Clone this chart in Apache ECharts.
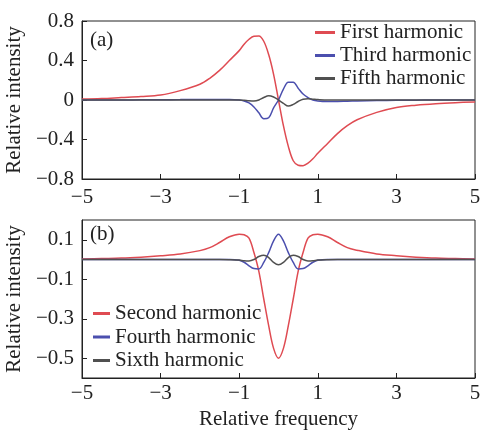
<!DOCTYPE html>
<html>
<head>
<meta charset="utf-8">
<script src="https://cdn.jsdelivr.net/npm/echarts@6.0.0/dist/echarts.min.js"></script>
<style>html,body{margin:0;padding:0;background:#fff}#main{width:481px;height:430px}</style>
</head>
<body>
<div id="main"></div>
<script>
// relative frequency sample points
var freq=[-5,-4.5,-4,-3.5,-3,-2.5,-2,-1.75,-1.5,-1.25,-1,-0.875,-0.75,-0.625,-0.5,-0.375,-0.25,-0.125,0,
	0.125,0.25,0.375,0.5,0.625,0.75,0.875,1,1.25,1.5,1.75,2,2.5,3,3.5,4,4.5,5]
// (a) odd harmonics
var first=[0.01,0.015,0.025,0.035,0.05,0.095,0.16,0.22,0.30,0.40,0.50,0.565,0.615,0.645,0.648,0.595,0.46,0.26,0,
	-0.26,-0.47,-0.615,-0.66,-0.665,-0.64,-0.595,-0.54,-0.44,-0.34,-0.26,-0.2,-0.125,-0.075,-0.052,-0.037,-0.027,-0.02]
var third=[0,0,0,0.002,0.003,0.004,0.005,0.005,0.005,0.005,0,-0.01,-0.03,-0.07,-0.13,-0.19,-0.18,-0.08,0,
	0.11,0.18,0.18,0.12,0.06,0.025,0,-0.01,-0.015,-0.015,-0.012,-0.01,-0.006,-0.003,-0.002,0,0,0]
var fifth=[0,0,0,0,0,0,0,0,0,0,0,-0.003,-0.008,-0.01,0,0.025,0.042,0.03,0,
	-0.035,-0.062,-0.045,-0.015,0.008,0.012,0.008,0.004,0,0,0,0,0,0,0,0,0,0]
// (b) even harmonics
var second=[0.003,0.005,0.007,0.012,0.019,0.028,0.045,0.06,0.086,0.115,0.128,0.125,0.108,0.035,-0.06,-0.2,-0.335,-0.45,-0.5,
	-0.45,-0.335,-0.2,-0.06,0.035,0.108,0.125,0.128,0.115,0.086,0.06,0.047,0.028,0.019,0.012,0.007,0.005,0.003]
var fourth=[0,0,0,0,0,0,0,0,0,0,-0.004,-0.014,-0.032,-0.046,-0.048,-0.015,0.035,0.094,0.128,
	0.094,0.035,-0.015,-0.048,-0.046,-0.032,-0.014,-0.004,0,0,0,0,0,0,0,0,0,0]
var sixth=[0,0,0,0,0,0,0,0,0,-0.001,-0.003,-0.006,-0.007,0,0.015,0.022,0.01,-0.015,-0.027,
	-0.015,0.01,0.022,0.015,0,-0.007,-0.006,-0.003,-0.001,0,0,0,0,0,0,0,0,0]
var ticksB=[-0.5,-0.3,-0.1,0.1]

function pairs(y){
	var out=[]
	for(var i=0;i<freq.length;i++){out.push([freq[i],y[i]])}
	return out
}
function minus(v){return (v<0?'\u2212':'')+Math.abs(v)}

var font="'Liberation Serif','Times New Roman',serif"
var ink='#222'
var red='#df4b52',blue='#4b4fae',gray='#505050'

function xAxis(idx,margin,name){
	return {
		type:'value',gridIndex:idx,min:-5,max:5,interval:2,
		name:name||'',nameLocation:'middle',nameGap:31,
		nameTextStyle:{fontFamily:font,fontSize:21,color:ink},
		axisLine:{onZero:false,lineStyle:{color:ink,width:1}},
		axisTick:{inside:true,length:5,lineStyle:{color:ink}},
		axisLabel:{margin:margin,fontFamily:font,fontSize:21,color:ink,formatter:minus},
		splitLine:{show:false}
	}
}
function yAxis(idx,extra){
	var a={
		type:'value',gridIndex:idx,
		name:'Relative intensity',nameLocation:'middle',nameGap:53,
		nameTextStyle:{fontFamily:font,fontSize:21,color:ink},
		axisLine:{show:true,onZero:false,lineStyle:{color:ink,width:1}},
		axisTick:{show:true,inside:true,length:5,lineStyle:{color:ink}},
		axisLabel:{margin:8,fontFamily:font,fontSize:21,color:ink,formatter:minus},
		splitLine:{show:false}
	}
	for(var k in extra){a[k]=extra[k]}
	return a
}
function line(name,data,color,idx){
	return {
		name:name,type:'line',xAxisIndex:idx,yAxisIndex:idx,
		data:pairs(data),symbol:'none',smooth:0.35,
		lineStyle:{color:color,width:1.5},itemStyle:{color:color}
	}
}

var mychart=echarts.init(document.getElementById('main'))
var option={
	animation:false,
	backgroundColor:'#fff',
	grid:[
		{left:82,right:6,top:21,height:158,show:true,borderColor:ink,borderWidth:1,outerBoundsMode:'none'},
		{left:82,right:6,top:220,height:158,show:true,borderColor:ink,borderWidth:1,outerBoundsMode:'none'}
	],
	xAxis:[xAxis(0,8),xAxis(1,5,'Relative frequency')],
	yAxis:[
		yAxis(0,{min:-0.8,max:0.8,interval:0.4}),
		yAxis(1,{min:-0.6,max:0.2,
			axisTick:{show:true,inside:true,length:5,lineStyle:{color:ink},customValues:ticksB},
			axisLabel:{margin:8,fontFamily:font,fontSize:21,color:ink,formatter:minus,customValues:ticksB}})
	],
	legend:[
		{data:['First harmonic','Third harmonic','Fifth harmonic'],orient:'vertical',left:315,top:22,padding:0,
			icon:'rect',itemWidth:20,itemHeight:3,itemGap:2,
			textStyle:{fontFamily:font,fontSize:21,color:ink,lineHeight:21}},
		{data:['Second harmonic','Fourth harmonic','Sixth harmonic'],orient:'vertical',left:93,top:303,padding:0,
			icon:'rect',itemWidth:17,itemHeight:3,itemGap:2.5,
			textStyle:{fontFamily:font,fontSize:21,color:ink,lineHeight:21}}
	],
	graphic:[
		{type:'text',left:90,top:30,style:{text:'(a)',font:'21px '+font,fill:ink}},
		{type:'text',left:90,top:224,style:{text:'(b)',font:'21px '+font,fill:ink}}
	],
	series:[
		line('First harmonic',first,red,0),
		line('Third harmonic',third,blue,0),
		line('Fifth harmonic',fifth,gray,0),
		line('Second harmonic',second,red,1),
		line('Fourth harmonic',fourth,blue,1),
		line('Sixth harmonic',sixth,gray,1)
	]
}
mychart.setOption(option)
</script>
</body>
</html>
